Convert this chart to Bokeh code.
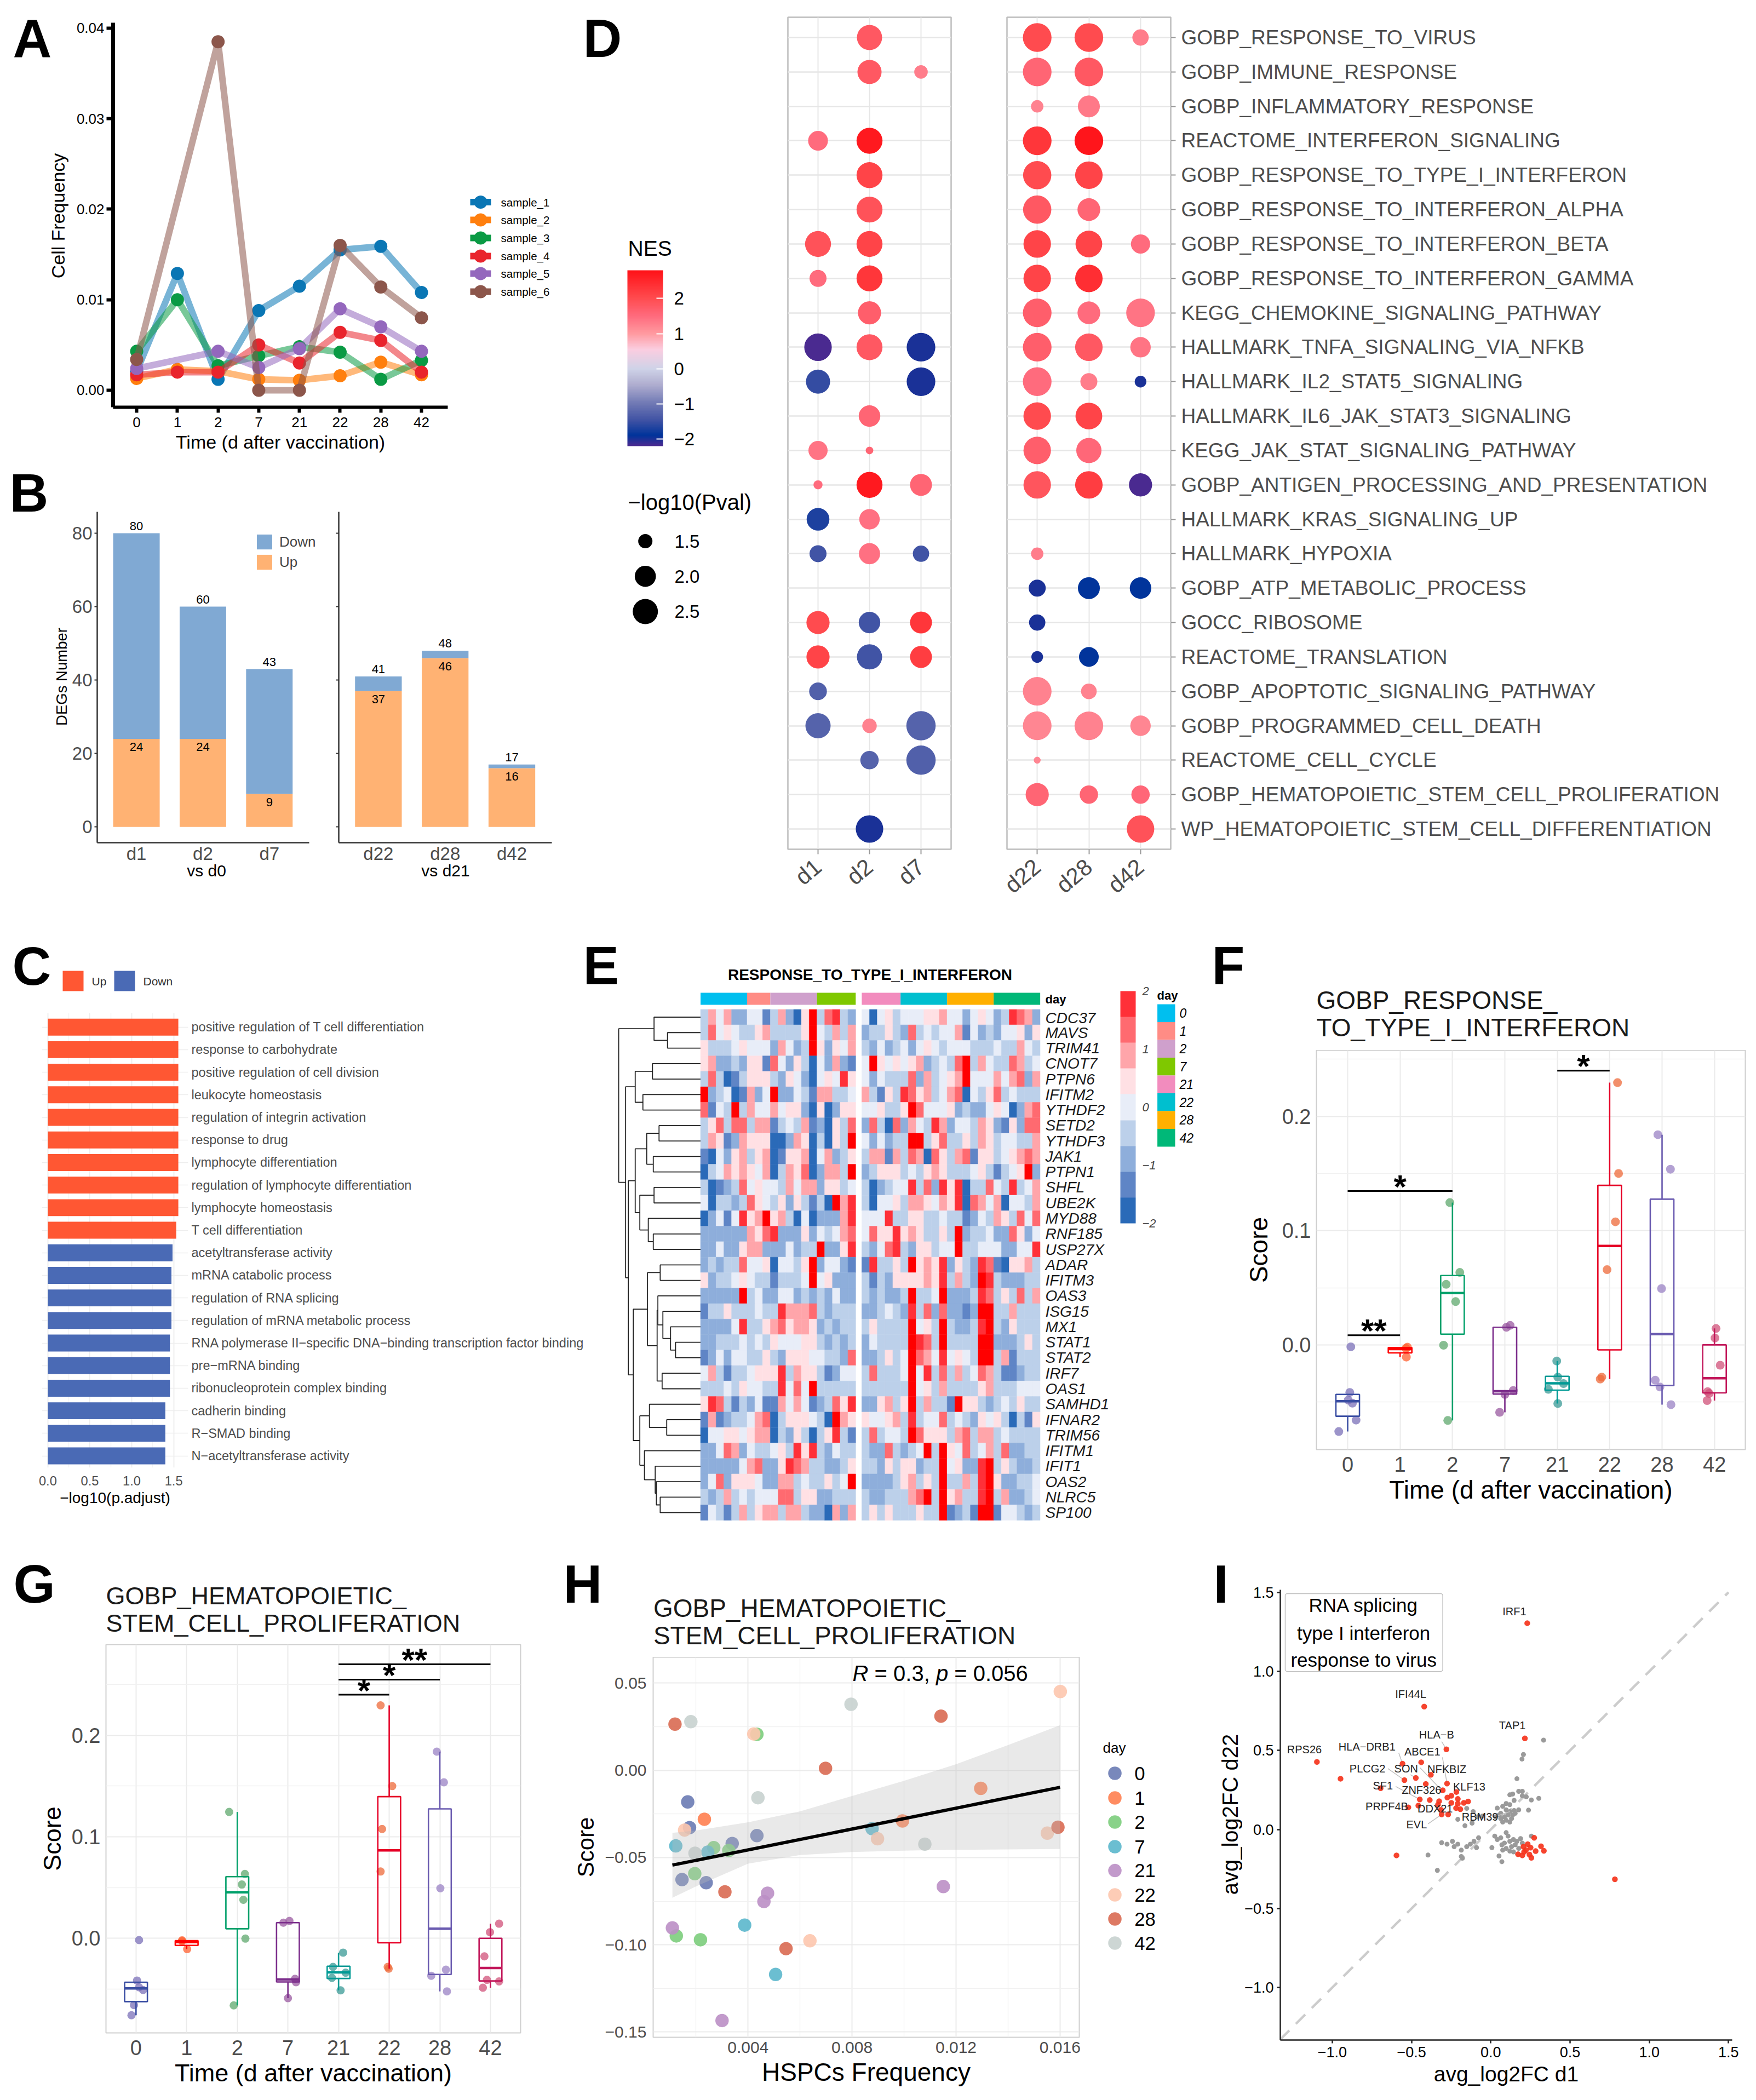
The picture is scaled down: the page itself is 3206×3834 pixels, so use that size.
import numpy as np
from bokeh.plotting import figure
from bokeh.models import (Range1d, LinearAxis, FixedTicker, Grid, Label, Legend, LegendItem, ColorBar,
                          LinearColorMapper, ColumnDataSource, BoxAnnotation)
from bokeh.layouts import row, column
from bokeh.transform import transform
from bokeh.core.properties import value
from bokeh.embed import file_html
from bokeh.resources import INLINE

FONT = "Liberation Sans"
GREY = "#4d4d4d"

# ---------------- data ----------------
days = ["0", "1", "2", "7", "21", "22", "28", "42"]
sample_names = ["sample_1", "sample_2", "sample_3", "sample_4", "sample_5", "sample_6"]
sample_colors = ["#0a76b4", "#ff7f0e", "#0a9a44", "#e9242c", "#9467bd", "#8c564b"]
sample_1 = [.0021, .0129, .0012, .0088, .0115, .0155, .0159, .0108]
sample_2 = [.0013, .0023, .0021, .0012, .0011, .0016, .0031, .0017]
sample_3 = [.0043, .0100, .0027, .0038, .0048, .0042, .0012, .0033]
sample_4 = [.0017, .0020, .0020, .0050, .0030, .0064, .0055, .0020]
sample_5 = [.0024, None, .0043, .0025, .0046, .0090, .0070, .0043]
sample_6 = [.0034, None, .0385, .0000, .0000, .0160, .0114, .0080]

deg_left = ["d1", "d2", "d7"]
deg_right = ["d22", "d28", "d42"]
deg_up_left = [24, 24, 9]
deg_total_left = [80, 60, 43]
deg_up_right = [37, 46, 16]
deg_total_right = [41, 48, 17]

go_terms = ["positive regulation of T cell differentiation", "response to carbohydrate",
            "positive regulation of cell division", "leukocyte homeostasis", "regulation of integrin activation",
            "response to drug", "lymphocyte differentiation", "regulation of lymphocyte differentiation",
            "lymphocyte homeostasis", "T cell differentiation", "acetyltransferase activity",
            "mRNA catabolic process", "regulation of RNA splicing", "regulation of mRNA metabolic process",
            "RNA polymerase II\u2212specific DNA\u2212binding transcription factor binding", "pre\u2212mRNA binding",
            "ribonucleoprotein complex binding", "cadherin binding", "R\u2212SMAD binding",
            "N\u2212acetyltransferase activity"]
go_values = [1.555] * 9 + [1.53, 1.486, 1.473, 1.473, 1.473, 1.455, 1.455, 1.455, 1.40, 1.40, 1.40]
go_dirs = ["Up"] * 10 + ["Down"] * 10

pathways = ["GOBP_RESPONSE_TO_VIRUS", "GOBP_IMMUNE_RESPONSE", "GOBP_INFLAMMATORY_RESPONSE",
            "REACTOME_INTERFERON_SIGNALING", "GOBP_RESPONSE_TO_TYPE_I_INTERFERON",
            "GOBP_RESPONSE_TO_INTERFERON_ALPHA", "GOBP_RESPONSE_TO_INTERFERON_BETA",
            "GOBP_RESPONSE_TO_INTERFERON_GAMMA", "KEGG_CHEMOKINE_SIGNALING_PATHWAY",
            "HALLMARK_TNFA_SIGNALING_VIA_NFKB", "HALLMARK_IL2_STAT5_SIGNALING", "HALLMARK_IL6_JAK_STAT3_SIGNALING",
            "KEGG_JAK_STAT_SIGNALING_PATHWAY", "GOBP_ANTIGEN_PROCESSING_AND_PRESENTATION",
            "HALLMARK_KRAS_SIGNALING_UP", "HALLMARK_HYPOXIA", "GOBP_ATP_METABOLIC_PROCESS", "GOCC_RIBOSOME",
            "REACTOME_TRANSLATION", "GOBP_APOPTOTIC_SIGNALING_PATHWAY", "GOBP_PROGRAMMED_CELL_DEATH",
            "REACTOME_CELL_CYCLE", "GOBP_HEMATOPOIETIC_STEM_CELL_PROLIFERATION",
            "WP_HEMATOPOIETIC_STEM_CELL_DIFFERENTIATION"]
N = None
nes_d1 = [N, N, N, 1.5, N, N, 1.9, 1.5, N, -2.2, -1.55, N, 1.4, 1.5, -1.7, -1.45, N, 2.0, 2.1, -1.3, -1.25, N, N, N]
pval_d1 = [N, N, N, 1.9, N, N, 2.6, 1.7, N, 2.8, 2.37, N, 1.86, 1.36, 2.2, 1.7, N, 2.25, 2.25, 1.75, 2.5, N, N, N]
nes_d2 = [1.8, 1.8, N, 2.7, 2.1, 1.9, 2.1, 2.3, 1.7, 1.8, N, 1.6, 1.6, 2.7, 1.45, 1.45, N, -1.45, -1.45, N, 1.25, -1.25, N, -2.0]
pval_d2 = [2.5, 2.37, N, 2.6, 2.6, 2.6, 2.6, 2.6, 2.25, 2.6, N, 2.05, 1.32, 2.6, 1.95, 2.0, N, 2.05, 2.5, N, 1.52, 1.8, N, 2.8]
nes_d7 = [N, 1.3, N, N, N, N, N, N, N, -2.0, -2.0, N, N, 1.6, N, -1.45, N, 2.3, 2.2, N, -1.25, -1.3, N, N]
pval_d7 = [N, 1.48, N, N, N, N, N, N, N, 2.95, 2.95, N, N, 2.1, N, 1.65, N, 2.1, 2.1, N, 3.05, 3.05, N, N]
nes_d22 = [2.0, 1.6, 1.25, 2.3, 2.0, 1.8, 2.1, 2.1, 1.7, 1.7, 1.5, 2.0, 1.7, 1.85, N, 1.3, -2.0, -2.0, -2.0, 1.25, 1.2, 1.2, 1.6, N]
pval_d22 = [2.95, 2.95, 1.45, 2.95, 2.9, 2.9, 2.8, 2.8, 2.95, 2.95, 2.95, 2.8, 2.8, 2.8, N, 1.45, 1.7, 1.65, 1.43, 2.95, 2.95, 1.3, 2.25, N]
nes_d28 = [2.0, 1.8, 1.35, 2.75, 2.1, 1.6, 2.1, 2.4, 1.5, 1.8, 1.3, 2.1, 1.55, 2.2, N, N, -1.9, N, -1.9, 1.25, 1.25, N, 1.6, N]
pval_d28 = [2.95, 2.95, 2.1, 2.95, 2.8, 2.2, 2.7, 2.8, 2.2, 2.8, 1.7, 2.7, 2.5, 2.8, N, N, 2.1, N, 1.9, 1.6, 2.95, N, 1.8, N]
nes_d42 = [1.3, N, N, N, N, N, 1.5, N, 1.4, 1.4, -2.0, N, N, -2.2, N, N, -1.9, N, N, N, 1.2, N, 1.55, 1.9]
pval_d42 = [1.65, N, N, N, N, N, 1.86, N, 2.95, 1.95, 1.43, N, N, 2.25, N, N, 2.05, N, N, N, 1.95, N, 1.8, 2.8]
nes_stops = [-2.2, -1.9, -1.5, -1, -.45, 0, .55, 1, 1.5, 2, 2.8]
nes_colors = ["#4a2a90", "#00349b", "#3c50a3", "#6f78b4", "#b0aed0", "#cfd3e8", "#fbcde0", "#ff9aa0", "#ff6b7e", "#ff4c50", "#ff1218"]

genes = ["CDC37", "MAVS", "TRIM41", "CNOT7", "PTPN6", "IFITM2", "YTHDF2", "SETD2", "YTHDF3", "JAK1", "PTPN1", "SHFL",
         "UBE2K", "MYD88", "RNF185", "USP27X", "ADAR", "IFITM3", "OAS3", "ISG15", "MX1", "STAT1", "STAT2", "IRF7",
         "OAS1", "SAMHD1", "IFNAR2", "TRIM56", "IFITM1", "IFIT1", "OAS2", "NLRC5", "SP100"]
heat_left = ["36462244136205937832", "37454335633335943636", "53334544426423952546", "56223255174253042621",
             "37301355532542045485", "92340162492243166334", "71439364464552050255", "35737736613436120537",
             "36512655500265030539", "10425635601556046235", "03465654603657026639", "30123745443646625534",
             "40332375435253130968", "02414856956304022268", "22222265782225243467", "22422566222423392258",
             "23233744504435924421", "52334543313334945222", "22222934224423232422", "13353334338666732333",
             "22224833567566523233", "22333434354445532323", "12424433532555443327", "46313345558365531244",
             "33343544338474933333", "58731324116464123758", "16123346703555430965", "04455456603253035831",
             "22476243345385832433", "22222467225876332235", "24725554226634335349", "32363434447735522333",
             "14313635663663220626"]
heat_right = ["40453444556442454238762", "23353273434461423244525", "32423424543444333433643", "49545456234379364337634",
              "42433372634569444646726", "63153875634670435734333", "44533597444523224540267", "27307264386244365215277",
              "42423399357335365344336", "36616376075367155345676", "23555343565333453134592", "30234483728580337438346",
              "30445366546580764604436", "44483355334331243653747", "47558565335392334227524", "32478325534493344422448",
              "18335395658253287105563", "31325555658363298322233", "32322393349222387353736", "22343283727221299336333",
              "35333394539322389325333", "24333398739333399222353", "22353497648454399361333", "37333494837363476311233",
              "33333394536333356333444", "22563593633195532343533", "54456383447343254530315", "37344397555367366343333",
              "32273234939547346372233", "33253552339452289353223", "22223563539336389522334", "32233367939563389362234",
              "35353335339123199144323"]
heat_palette = ["#2a6ab8", "#5f85c6", "#8eaedb", "#bcd0ea", "#e8edf8", "#ffe0e4", "#ffa5aa", "#ff6a70", "#ff3038", "#ff0000"]
annot_left = [("0", 6), ("1", 3), ("2", 6), ("7", 5)]
annot_right = [("21", 5), ("22", 6), ("28", 6), ("42", 6)]
annot_colors = {"0": "#00bfef", "1": "#ff8c85", "2": "#cfa0cc", "7": "#7fc800", "21": "#f28cbe", "22": "#00bfcf",
                "28": "#ffb000", "42": "#00b878"}
# dendrogram: (height, left, right), leaves are row numbers
tree = (213, (121, 0, (86, 1, 2)),
        (195, (170, (125, 3, 4), (150, 5, 6)),
         (188, (170, (140, (108, 7, 8), (123, 9, 10)), (158, (121, 11, 12), (136, 13, (123, 14, 15)))),
          (175, (138, (105, 16, 17), (113, (111, 18, (98, 19, (78, 20, (65, 21, 22)))), (100, 23, 24))),
           (158, (133, 25, (88, 26, 27)), (146, 28, (118, 29, (115, 30, (105, 31, 32)))))))))

box_q1 = [-.0624, -.007, .0094, -.043, -.0396, -.0044, -.0356, -.042]
box_q3 = [-.0433, -.0023, .0607, .0154, -.0275, .1396, .1275, 0.0]
box_med = [-.0493, -.0037, .0453, -.0406, -.0336, .0866, .0094, -.0292]
wh_lo = [-.0758, -.0107, -.0661, -.059, -.0513, -.0299, -.0523, -.0487]
wh_hi = [-.0433, -.0023, .1245, .0154, -.0141, .2295, .1839, .0144]
box_colors = ["#3a4ea3", "#ff0000", "#00a06a", "#7b2d8b", "#009a95", "#e60026", "#6a5bb0", "#c2185b"]
pt_colors = ["#7b70b8", "#ff6030", "#5fa86e", "#9a5aa0", "#3a9a95", "#ee6a3a", "#9a82c4", "#d0527a"]
pts_y = [[-.0017, -.0416, -.0483, -.051, -.0658, -.0758], [-.002, -.003, -.0107],
         [.1245, .0634, .053, .0379, -.0003, -.0661], [.0171, .0154, -.0399, -.0433, -.059],
         [-.0141, -.0282, -.0339, -.0389, -.0513], [.2295, .15, .1077, .0658, -.0282, -.0299],
         [.1839, .1537, .0493, -.0309, -.0369, -.0523], [.0144, .006, -.0178, -.0409, -.0425, -.0487]]
jitter_f = [[.06, .04, .01, .09, .16, -.17], [.14, .11, .12], [-.05, .14, -.12, .06, -.17, -.09],
            [.10, .03, .16, 0, -.10], [-.01, .01, .12, -.17, .01], [.15, .17, .11, -.05, -.15, -.18],
            [-.08, .16, -.01, -.13, -.04, .17], [.03, .01, .11, -.13, -.10, -.14]]
jitter_g = [[.06, .02, .06, .14, -.04, -.09], [-.09, -.09, .01], [-.16, .15, .09, .12, .16, -.07],
            [.03, -.09, .14, .16, 0], [.09, -.11, .14, -.13, .04], [-.17, .06, -.14, -.17, -.03, -.01],
            [-.06, .08, .01, .12, -.17, .14], [.17, -.01, -.12, -.07, .17, -.15]]
sig_f = [(0, 1, .0084, "**"), (0, 2, .1346, "*"), (4, 5, .24, "*")]
sig_g = [(4, 5, .24, "*"), (4, 6, .2548, "*"), (4, 7, .27, "**")]

h_colors = ["#6a7bb4", "#ff7f50", "#7ccd7c", "#5bb7cc", "#bb8fc5", "#fdc7ae", "#d96a52", "#c8d2cf"]
h_x = [[.00168, .00175, .00339, .00434, .00146, .00239], [.00232, .00994, .01295],
       [.00434, .00268, .00195, .00124, .00217, .00326], [.00122, .00245, .00877, .00387, .00506],
       [.00109, .00461, .00475, .01151, .0030], [.01601, .00422, .00156, .00898, .01551, .00638],
       [.00119, .01142, .00698, .01592, .00311, .00546], [.0018, .00796, .00438, .0108, .00196]]
h_y = [[-.0181, -.0328, -.0419, -.0374, -.0626, -.0644], [-.028, -.029, -.0103],
       [.0207, -.0443, -.0592, -.0949, -.0971, -.0459], [-.0433, -.0469, -.0334, -.0887, -.117],
       [-.0903, -.0752, -.0704, -.0666, -.1434], [.0452, .0209, -.0342, -.0392, -.036, -.0977],
       [.0265, .0311, .0012, -.0326, -.0696, -.1022], [.0279, .0379, -.0157, -.0423, -.0475]]
fit_x = [.00109, .016]
fit_y = [-.0543, -.0097]
ci_x = [.00109, .002, .004, .006, .008, .010, .012, .014, .016]
ci_hi = [-.0358, -.0345, -.0298, -.0235, -.0147, -.0060, .0035, .0145, .0259]
ci_lo = [-.073, -.0665, -.0535, -.0485, -.0468, -.046, -.0455, -.0453, -.0451]

red_x = [.23, -.42, .215, -.28, -1.097, -.948, -.439, -.557, -.378, -.473, -.545, -.41, -.276, -.695, -.303, -.217, -.274,
         -.249, -.448, -.385, -.208, -.326, -.143, -.17, -.249, -.208, -.333, -.457, -.52, -.219, -.192, -.314, -.31, -.269,
         -.595, .274, .317, .335, .233, .251, .283, .206, .222, .172, .199, .244, .256, .21, .783]
red_y = [1.305, .777, .576, .507, .427, .321, .425, .416, .346, .326, .312, .288, .29, .261, .248, .237, .202,
         .213, .19, .186, .193, .179, .177, .168, .168, .164, .157, .151, .14, .135, .128, .124, .095, .095,
         -.164, -.053, -.106, -.135, -.093, -.115, -.137, -.109, -.131, -.157, -.164, -.159, -.179, -.142, -.315]
gray_x = [.333, .206, .197, .165, .12, .138, .176, .199, .147, .199, .224, .256, .303, .238, .097, .075, .041, .12, .097,
          .063, .086, .12, .138, .147, .109, .097, .12, .131, .154, .176, .075, .063, .052, .029, -.111, -.152, -.208,
          -.163, -.118, -.084, -.054, -.31, -.276, -.242, -.231, -.208, -.186, -.152, -.129, -.106, -.077, -.09, -.186,
          -.396, -.337, -.179, .007, .025, .041, .063, .07, .086, .097, .109, .12, .131, .143, .154, .165, .176, .188,
          .097, .12, .075, .052, .07, .143, .256, .199]
gray_y = [.565, .474, .445, .321, .219, .224, .241, .241, .184, .213, .206, .186, .197, .122, .164, .146, .135, .157, .124,
          .102, .08, .113, .091, .12, .091, .058, .047, .069, .102, .124, .047, .069, .091, .08, .113, .133, .064,
          .024, .04, .08, .084, -.084, -.093, -.075, -.109, -.093, -.131, -.109, -.093, -.075, -.053, -.115, -.171,
          -.162, -.259, -.182, -.115, -.042, -.064, -.053, -.097, -.086, -.02, -.042, -.075, -.109, -.064, -.097, -.075, -.12, -.058,
          -.12, -.137, -.131, -.168, -.204, -.142, -.042, -.086]
i_labels = ["IRF1", "IFI44L", "TAP1", "HLA\u2212B", "RPS26", "HLA\u2212DRB1", "ABCE1", "PLCG2", "SON", "NFKBIZ", "SF1", "KLF13",
            "ZNF326", "PRPF4B", "DDX21", "RBM39", "EVL"]
i_label_x = [.149, -.505, .136, -.342, -1.176, -.781, -.432, -.778, -.534, -.277, -.681, -.136, -.437, -.656, -.351, -.068, -.468]
i_label_y = [1.38, .857, .658, .598, .507, .522, .492, .385, .385, .381, .279, .272, .25, .144, .133, .08, .031]
i_link_x = [[-.31, -.28], [-.581, -.557], [-.305, -.276], [-.649, -.545], [-.507, -.473], [-.446, -.31], [-.6, -.448], [-.396, -.31], [.041, .12]]
i_link_y = [[.556, .507], [.485, .416], [.456, .29], [.385, .312], [.346, .326], [.39, .248], [.272, .19], [.035, .095], [.086, .113]]

# ---------------- helpers ----------------
FR = {}


def mk(x0, y0, x1, y1, fl, ft, fr, fb, xr, yr):
    p = figure(width=int(x1 - x0), height=int(y1 - y0), x_range=Range1d(*xr), y_range=Range1d(*yr), title=None,
               x_axis_location=None, y_axis_location=None, toolbar_location=None, output_backend="svg", frame_align=False,
               min_border_left=int(round(fl - x0)), min_border_right=int(round(x1 - fr)),
               min_border_top=int(round(ft - y0)), min_border_bottom=int(round(y1 - fb)))
    p.outline_line_color = None
    p.background_fill_color = None
    p.border_fill_color = None
    p.grid.visible = False
    FR[p.id] = (fl, fb)
    return p


def canvas(x0, y0, x1, y1):
    return mk(x0, y0, x1, y1, x0, y0, x1, y1, (x0, x1), (y1, y0))


def lab(p, x, y, text, size, color="#000000", style="normal", align="left", baseline="middle", angle=0):
    fl, fb = FR[p.id]
    p.add_layout(Label(x=x - fl, y=fb - y, x_units="screen", y_units="screen", text=text, text_font=FONT,
                       text_font_size=f"{size}px", text_color=color, text_font_style=style, text_align=align,
                       text_baseline=baseline, angle=angle))


def letter(p, x, y, t):
    # y is the baseline of the capital; the label is placed by its middle
    lab(p, x, y - 35, t, 98, style="bold")


def ax(p, side, ticks, labels=None, size=26, color="#000000", line=None, lw=1, tw=1, out=6, standoff=5, title=None,
       tsize=None, tstand=5, style="normal", orient=None, tcolor=None, bounds=None):
    a = LinearAxis(ticker=FixedTicker(ticks=list(ticks)))
    if labels is not None:
        a.major_label_overrides = {t: l for t, l in zip(ticks, labels)}
    a.major_label_text_font = FONT
    a.major_label_text_font_size = f"{size}px"
    a.major_label_text_color = color
    a.major_label_text_font_style = style
    a.major_label_standoff = standoff
    a.axis_line_color = line
    a.axis_line_width = lw
    a.major_tick_line_color = tcolor if tcolor is not None else line
    a.major_tick_line_width = tw
    a.major_tick_out = out
    a.major_tick_in = 0
    a.minor_tick_line_color = None
    if bounds is not None:
        a.bounds = bounds
    if orient is not None:
        a.major_label_orientation = orient
    if title:
        a.axis_label = title
        a.axis_label_text_font = FONT
        a.axis_label_text_font_size = f"{tsize}px"
        a.axis_label_text_font_style = "normal"
        a.axis_label_text_color = "#000000"
        a.axis_label_standoff = tstand
    p.add_layout(a, side)
    return a


def grid(p, dim, ticks, color="#ebebeb", width=2):
    p.add_layout(Grid(dimension=dim, ticker=FixedTicker(ticks=list(ticks)), grid_line_color=color, grid_line_width=width))


def txt(p, x, y, t, size, color="#000000", style="normal", align="center", baseline="middle", y_offset=0):
    p.text(x=x, y=y, text=t, text_font=value(FONT), text_font_size=f"{size}px", text_color=color,
           text_font_style=style, text_align=align, text_baseline=baseline, y_offset=y_offset)


# ---------------- A ----------------
sA = canvas(0, 0, 125, 838)
letter(sA, 23, 104, "A")
lab(sA, 105, 393.5, "Cell Frequency", 34, align="center", angle=np.pi / 2)
pA = mk(125, 0, 840, 838, 206, 41, 817, 743, (-0.58, 7.646), (-0.00188, 0.0406))
for vals, col in zip([sample_1, sample_2, sample_3, sample_4, sample_5, sample_6], sample_colors):
    xs = [i for i, v in enumerate(vals) if v is not None]
    ys = [v for v in vals if v is not None]
    pA.line(xs, ys, line_color=col, line_width=12, line_alpha=.55)
    pA.scatter(xs, ys, size=24, fill_color=col, line_color=None)
ax(pA, "left", [0, .01, .02, .03, .04], ["0.00", "0.01", "0.02", "0.03", "0.04"], size=26, line="#000000", lw=7, tw=6,
   out=12, standoff=4)
ax(pA, "below", list(range(8)), days, size=26, line="#000000", lw=6, tw=6, out=10, standoff=8,
   title="Time (d after vaccination)", tsize=34, tstand=5)

aL = canvas(840, 0, 1060, 838)
ly = [368.6, 401, 434, 467, 499, 532]
aL.segment(x0=[858] * 6, y0=ly, x1=[896] * 6, y1=ly, line_color=sample_colors, line_width=12)
aL.scatter([877] * 6, ly, size=24, fill_color=sample_colors, line_color=None)
txt(aL, [914] * 6, ly, sample_names, 20.5, align="left")

# ---------------- B ----------------
sB = canvas(0, 838, 128, 1690)
letter(sB, 17, 934, "B")
lab(sB, 112, 1235, "DEGs Number", 27.5, align="center", angle=np.pi / 2)
yrB = (-4.27, 85.8)
pB1 = mk(128, 838, 590, 1690, 175, 934, 576, 1537.6, (-0.59, 2.698), yrB)
pB2 = mk(590, 838, 1060, 1690, 617.5, 934, 1008, 1537.6, (-0.594, 2.607), yrB)
UPC, DNC = "#ffb273", "#80a9d3"
for p, names, up, tot, title in [(pB1, deg_left, deg_up_left, deg_total_left, "vs d0"),
                                 (pB2, deg_right, deg_up_right, deg_total_right, "vs d21")]:
    xs = [0, 1, 2]
    rU = p.vbar(x=xs, bottom=0, top=up, width=.7, fill_color=UPC, line_color=None)
    rD = p.vbar(x=xs, bottom=up, top=tot, width=.7, fill_color=DNC, line_color=None)
    txt(p, xs, tot, [str(v) for v in tot], 22, y_offset=-13)
    txt(p, xs, up, [str(v) for v in up], 22, y_offset=15)
    ax(p, "below", xs, names, size=33, color=GREY, line="#333333", lw=2.5, tw=1.5, out=0, standoff=1, title=title, tsize=30, tstand=-7,
       bounds=(-0.59, 2.6))
    if p is pB1:
        ax(p, "left", [0, 20, 40, 60, 80], size=33, color=GREY, line="#333333", lw=2.5, tw=2, out=5, standoff=4)
        p.add_layout(Legend(items=[LegendItem(label="Down", renderers=[rD]), LegendItem(label="Up", renderers=[rU])],
                            location=(288, 495), margin=0, padding=0, spacing=3, glyph_width=35, glyph_height=34,
                            label_standoff=10, label_text_font=FONT, label_text_font_size="26px",
                            background_fill_alpha=0, border_line_color=None))
    else:
        a = ax(p, "left", [0, 20, 40, 60, 80], [""] * 5, size=10, line="#333333", lw=2.5, tw=2, out=5, standoff=0)

# ---------------- D ----------------
dLo, dHi = -2.2, 2.8
_g = np.linspace(dLo, dHi, 256)
_rgb = [[int(nes_colors[i][k:k + 2], 16) for k in (1, 3, 5)] for i in range(len(nes_colors))]
nes_palette = ["#%02x%02x%02x" % tuple(int(round(np.interp(v, nes_stops, [c[j] for c in _rgb]))) for j in range(3)) for v in _g]
nes_mapper = LinearColorMapper(palette=nes_palette, low=dLo, high=dHi)


def dsize(pv):
    return float(np.interp(pv, [1.3, 1.5, 2.0, 2.5, 3.0, 3.1], [12.6, 26, 38.6, 46, 53, 54]))


def dotpanel(p, nes_cols, pval_cols, names):
    rows_ = list(range(24))
    grid(p, 0, [0, 1, 2], "#e6e6e6", 2)
    grid(p, 1, rows_, "#e6e6e6", 2.5)
    xs, ys, ns, ss = [], [], [], []
    for c, (nl, pl) in enumerate(zip(nes_cols, pval_cols)):
        for r, (n, v) in enumerate(zip(nl, pl)):
            if n is not None:
                xs.append(c); ys.append(r); ns.append(n); ss.append(dsize(v))
    src = ColumnDataSource(dict(x=xs, y=ys, nes=ns, size=ss))
    p.scatter("x", "y", size="size", source=src, fill_color=transform("nes", nes_mapper), line_color=None)
    p.outline_line_color = "#bdbdbd"
    p.outline_line_width = 2.5
    ax(p, "below", [0, 1, 2], names, size=42, color=GREY, line=None, tw=2, out=9, standoff=17, orient=0.7, tcolor="#999999")


yrD = (23.589, -0.589)
pD1 = mk(1400, 0, 1780, 1690, 1438, 31, 1736, 1550, (-0.585, 2.585), yrD)
dotpanel(pD1, [nes_d1, nes_d2, nes_d7], [pval_d1, pval_d2, pval_d7], deg_left)
pD2 = mk(1780, 0, 3198, 1690, 1838.5, 31, 2137, 1550, (-0.585, 2.585), yrD)
dotpanel(pD2, [nes_d22, nes_d28, nes_d42], [pval_d22, pval_d28, pval_d42], deg_right)
ax(pD2, "right", list(range(24)), pathways, size=37, color=GREY, line=None, tw=2, out=9, standoff=10, tcolor="#999999")

dL = canvas(1060, 0, 1400, 1690)
letter(dL, 1064, 104, "D")
lab(dL, 1146, 453, "NES", 39)
lab(dL, 1146, 916, "\u2212log10(Pval)", 40)
cbD = ColorBar(color_mapper=nes_mapper, width=65, height=321, location=(85, 876), padding=0, margin=0,
               ticker=FixedTicker(ticks=[-2, -1, 0, 1, 2]),
               major_label_overrides={-2: "\u22122", -1: "\u22121", 0: "0", 1: "1", 2: "2"},
               major_tick_line_color="#ffffff", major_tick_line_width=2, major_tick_in=12, major_tick_out=0,
               major_label_text_font=FONT, major_label_text_font_size="33px", major_label_text_color="#000000",
               label_standoff=20, minor_tick_line_color=None, bar_line_color=None, background_fill_alpha=0)
dL.add_layout(cbD)
leg_pv = [1.5, 2.0, 2.5]
leg_py = [987.6, 1051.7, 1116]
dL.scatter([1177.7] * 3, leg_py, size=[dsize(v) for v in leg_pv], fill_color="#000000", line_color=None)
txt(dL, [1231] * 3, leg_py, [f"{v:.1f}" for v in leg_pv], 33, align="left")

# ---------------- strip over C and E, with the legend of C and the annotation bar of E ----------------
CW, RH = 14.165, 28.27
GAP = 20.78
sCE = canvas(0, 1690, 2035, 1842)
letter(sCE, 22, 1798, "C")
sCE.quad(left=[114, 208], right=[152, 246], top=[1772, 1772], bottom=[1809, 1809], fill_color=["#ff5733", "#4a6ab5"], line_color=None)
txt(sCE, [167, 261], [1790.5, 1790.5], ["Up", "Down"], 21, color="#333333", align="left")
letter(sCE, 1064, 1797, "E")
lab(sCE, 1588, 1779, "RESPONSE_TO_TYPE_I_INTERFERON", 28, style="bold", align="center")
aL_, aR_, aC_ = [], [], []
pos = 0
for d, n in annot_left:
    aL_.append(1278.5 + CW * pos); aR_.append(1278.5 + CW * (pos + n)); aC_.append(annot_colors[d]); pos += n
pos = GAP
for d, n in annot_right:
    aL_.append(1278.5 + CW * pos); aR_.append(1278.5 + CW * (pos + n)); aC_.append(annot_colors[d]); pos += n
sCE.quad(left=aL_, right=aR_, top=1812, bottom=1834, fill_color=aC_, line_color=None)
lab(sCE, 1908, 1823.5, "day", 22, style="bold")

# ---------------- C ----------------
pC = mk(0, 1842, 1069, 2830, 76, 1849, 345, 2679, (-.071, 1.672), (19.52, -0.624))
grid(pC, 0, [0, .5, 1, 1.5], "#eeeeee", 2)
grid(pC, 0, [.25, .75, 1.25], "#f4f4f4", 1.5)
grid(pC, 1, range(20), "#eeeeee", 1.5)
upi = [i for i, d in enumerate(go_dirs) if d == "Up"]
dni = [i for i, d in enumerate(go_dirs) if d == "Down"]
pC.hbar(y=upi, left=0, right=[go_values[i] for i in upi], height=.75, fill_color="#ff5733", line_color=None)
pC.hbar(y=dni, left=0, right=[go_values[i] for i in dni], height=.75, fill_color="#4a6ab5", line_color=None)
ax(pC, "below", [0, .5, 1, 1.5], ["0.0", "0.5", "1.0", "1.5"], size=23.7, color=GREY, line=None, tw=0, out=0, standoff=15,
   title="\u2212log10(p.adjust)", tsize=28, tstand=4)
ax(pC, "right", list(range(20)), go_terms, size=23.5, color=GREY, line=None, tw=0, out=0, standoff=6)

# ---------------- E ----------------
pE = mk(1069, 1842, 2035, 2830, 1125, 1842, 1899, 2776, ((1125 - 1278.5) / CW, (1899 - 1278.5) / CW),
        ((2776 - 1856.5) / RH, (1842 - 1856.5) / RH))
heat_mapper = LinearColorMapper(palette=heat_palette, low=-.5, high=9.5)
L, R, T, B, V = [], [], [], [], []
for r, (a_, b_) in enumerate(zip(heat_left, heat_right)):
    for c, ch in enumerate(a_):
        L.append(c); R.append(c + 1); T.append(r - .5); B.append(r + .5); V.append(int(ch))
    for c, ch in enumerate(b_):
        L.append(GAP + c); R.append(GAP + c + 1); T.append(r - .5); B.append(r + .5); V.append(int(ch))
srcE = ColumnDataSource(dict(l=L, r=R, t=T, b=B, v=V))
pE.quad(left="l", right="r", top="t", bottom="b", source=srcE, fill_color=transform("v", heat_mapper),
        line_color=transform("v", heat_mapper), line_width=.5)
segs_x, segs_y = [], []


def walk(n):
    if isinstance(n, int):
        return 0.0, float(n)
    h, a_, b_ = n
    ha, ya = walk(a_)
    hb, yb = walk(b_)
    xn = -h / 1.4255 / CW
    xa = -ha / 1.4255 / CW
    xb = -hb / 1.4255 / CW
    segs_x.append([xa, xn, xn, xb])
    segs_y.append([ya, ya, yb, yb])
    return h, (ya + yb) / 2


walk(tree)
pE.multi_line(segs_x, segs_y, line_color="#222222", line_width=1.8)
ax(pE, "right", list(range(33)), genes, size=28, color="#1a1a1a", line=None, tw=0, out=0, standoff=9, style="italic")

eL = canvas(2035, 1690, 2200, 2830)
cbE = ColorBar(color_mapper=LinearColorMapper(palette=heat_palette[:9], low=-2, high=2), width=28, height=424,
               location=(10, 597), padding=0, margin=0, ticker=FixedTicker(ticks=[-2, -1, 0, 1, 2]),
               major_label_overrides={-2: "\u22122", -1: "\u22121", 0: "0", 1: "1", 2: "2"},
               major_tick_line_color=None, minor_tick_line_color=None, bar_line_color=None, label_standoff=12,
               major_label_text_font=FONT, major_label_text_font_size="22px", major_label_text_font_style="italic",
               background_fill_alpha=0)
eL.add_layout(cbE)
ey = [1833 + 32.5 * i for i in range(9)]
eL.quad(left=[2112.6] * 8, right=[2145] * 8, top=ey[:8], bottom=ey[1:], fill_color=[annot_colors[d] for d in days], line_color=None)
txt(eL, [2153] * 8, [v + 16 for v in ey[:8]], days, 23, style="italic", align="left")
lab(eL, 2112, 1817, "day", 22, style="bold")


# ---------------- F, G ----------------
def boxpanel(p, jitter, sig, size_pt):
    p.outline_line_color = "#cfcfcf"
    p.outline_line_width = 2
    grid(p, 0, range(8), "#ebebeb", 2)
    grid(p, 1, [0, .1, .2], "#ebebeb", 2)
    grid(p, 1, [-.05, .05, .15, .25], "#f1f1f1", 1.3)
    xs = list(range(8))
    for i in xs:
        ptx = [i + j for j in jitter[i]]
        p.scatter(ptx, pts_y[i], size=size_pt, fill_color=pt_colors[i], fill_alpha=.75, line_color=None)
    p.segment(xs, wh_lo, xs, box_q1, line_color=box_colors, line_width=2.6)
    p.segment(xs, box_q3, xs, wh_hi, line_color=box_colors, line_width=2.6)
    p.quad(left=[x - .225 for x in xs], right=[x + .225 for x in xs], top=box_q3, bottom=box_q1, fill_alpha=0, line_color=box_colors, line_width=2.6)
    p.segment([x - .225 for x in xs], box_med, [x + .225 for x in xs], box_med, line_color=box_colors, line_width=4.5)
    for a_, b_, y, s in sig:
        p.segment([a_], [y], [b_], [y], line_color="#000000", line_width=3)
        txt(p, [(a_ + b_) / 2], [y], [s], 60, style="bold", y_offset=-8)


sF = canvas(2200, 1690, 3198, 1917)
lab(sF, 2403, 1825, "GOBP_RESPONSE_", 46, color="#1a1a1a")
lab(sF, 2403, 1875, "TO_TYPE_I_INTERFERON", 46, color="#1a1a1a")
letter(sF, 2212, 1797, "F")
pF = mk(2200, 1917, 3198, 2830, 2403, 1917.5, 3185.7, 2645.6, (-.596, 7.589), (-.0916, .2578))
boxpanel(pF, jitter_f, sig_f, 16)
ax(pF, "left", [0, .1, .2], ["0.0", "0.1", "0.2"], size=38, color=GREY, line=None, tw=0, out=0, standoff=10, title="Score", tsize=46, tstand=14)
ax(pF, "below", list(range(8)), days, size=38, color=GREY, line=None, tw=0, out=0, standoff=13, title="Time (d after vaccination)", tsize=46, tstand=4)

sG = canvas(0, 2830, 1020, 3002)
lab(sG, 193, 2913, "GOBP_HEMATOPOIETIC_", 45, color="#1a1a1a")
lab(sG, 193, 2962.5, "STEM_CELL_PROLIFERATION", 45, color="#1a1a1a")
letter(sG, 24, 2926, "G")
pG = mk(0, 3002, 1020, 3826, 193, 3002, 949.6, 3711, (-.593, 7.595), (-.0932, .2894))
boxpanel(pG, jitter_g, sig_g, 15)
ax(pG, "left", [0, .1, .2], ["0.0", "0.1", "0.2"], size=38, color=GREY, line=None, tw=0, out=0, standoff=10, title="Score", tsize=45, tstand=7)
ax(pG, "below", list(range(8)), days, size=38, color=GREY, line=None, tw=0, out=0, standoff=13, title="Time (d after vaccination)", tsize=45, tstand=4)

# ---------------- H ----------------
sH = canvas(1020, 2830, 1990, 3025)
lab(sH, 1192.4, 2935.6, "GOBP_HEMATOPOIETIC_", 46, color="#1a1a1a")
lab(sH, 1192.4, 2985, "STEM_CELL_PROLIFERATION", 46, color="#1a1a1a")
letter(sH, 1028, 2926, "H")
pH = mk(1020, 3025, 1990, 3826, 1192.4, 3025, 1970.4, 3718.7, (.00035, .01674), (-.153, .0649))
pH.outline_line_color = "#cfcfcf"
pH.outline_line_width = 2
grid(pH, 0, [.004, .008, .012, .016], "#ebebeb", 2)
grid(pH, 0, [.002, .006, .010, .014], "#f1f1f1", 1.3)
grid(pH, 1, [-.15, -.1, -.05, 0, .05], "#ebebeb", 2)
grid(pH, 1, [-.125, -.075, -.025, .025], "#f1f1f1", 1.3)
for xs, ys, c in zip(h_x, h_y, h_colors):
    pH.scatter(xs, ys, size=24.5, fill_color=c, fill_alpha=.9, line_color=None)
pH.varea(x=ci_x, y1=ci_lo, y2=ci_hi, fill_color="#bdbdbd", fill_alpha=.33)
pH.line(fit_x, fit_y, line_color="#000000", line_width=6)
ax(pH, "left", [-.15, -.1, -.05, 0, .05], ["\u22120.15", "\u22120.10", "\u22120.05", "0.00", "0.05"], size=30, color=GREY, line=None, tw=0, out=0, standoff=12,
   title="Score", tsize=42, tstand=9)
ax(pH, "below", [.004, .008, .012, .016], ["0.004", "0.008", "0.012", "0.016"], size=30, color=GREY, line=None, tw=0, out=0, standoff=8,
   title="HSPCs Frequency", tsize=46, tstand=6)
for part, st, em in [("R", "italic", 0), ("= 0.3,", "normal", 1.0), ("p", "italic", 3.808), ("= 0.056", "normal", 4.642)]:
    lab(pH, 1556.5 + em * 40, 3054, part, 40, style=st)

hL = canvas(1990, 2830, 2190, 3826)
hy = [3237, 3282, 3326, 3371, 3414.6, 3459, 3503, 3547]
hL.scatter([2035] * 8, hy, size=24.5, fill_color=h_colors, fill_alpha=.9, line_color=None)
txt(hL, [2070.7] * 8, hy, days, 34.7, align="left")
lab(hL, 2013, 3190, "day", 26)

# ---------------- I ----------------
sI = canvas(2190, 2830, 2268, 3826)
letter(sI, 2215, 2926, "I")
lab(sI, 2245, 3312, "avg_log2FC d22", 40, align="center", angle=np.pi / 2)
pI = mk(2268, 2830, 3198, 3826, 2337, 2901.7, 3161.5, 3724.5, (-1.328, 1.523), (-1.332, 1.516))
pI.line([-1.33, 1.5], [-1.33, 1.5], line_color="#cccccc", line_width=4.5, line_dash="24 17")
pI.scatter(gray_x, gray_y, size=9, fill_color="#9a9a9a", line_color=None)
pI.multi_line(i_link_x, i_link_y, line_color="#bfbfbf", line_width=1.5)
pI.scatter(red_x, red_y, size=10.5, fill_color="#f5341c", fill_alpha=.92, line_color=None)
txt(pI, i_label_x, i_label_y, i_labels, 20, color="#222222")
ax(pI, "left", [-1, -.5, 0, .5, 1, 1.5], ["\u22121.0", "\u22120.5", "0.0", "0.5", "1.0", "1.5"], size=27, line="#222222", lw=2.5, tw=2.5, out=6, standoff=6)
ax(pI, "below", [-1, -.5, 0, .5, 1, 1.5], ["\u22121.0", "\u22120.5", "0.0", "0.5", "1.0", "1.5"], size=27, line="#222222", lw=2.5, tw=2.5, out=6, standoff=6,
   title="avg_log2FC d1", tsize=39, tstand=6)
pI.add_layout(BoxAnnotation(left=-1.297, right=-.303, top=1.492, bottom=.999, fill_alpha=0, line_color="#333333", line_width=1.5, border_radius=4))
txt(pI, [-.802] * 3, [1.418, 1.243, 1.071], ["RNA splicing", "type I interferon", "response to virus"], 35)

layout = column(
    row(column(row(sA, pA, aL), row(sB, pB1, pB2)), dL, pD1, pD2),
    row(column(sCE, row(pC, pE)), eL, column(sF, pF)),
    row(column(sG, pG), column(sH, pH), hL, sI, pI),
)
open("out.html", "w").write(file_html(layout, INLINE))
